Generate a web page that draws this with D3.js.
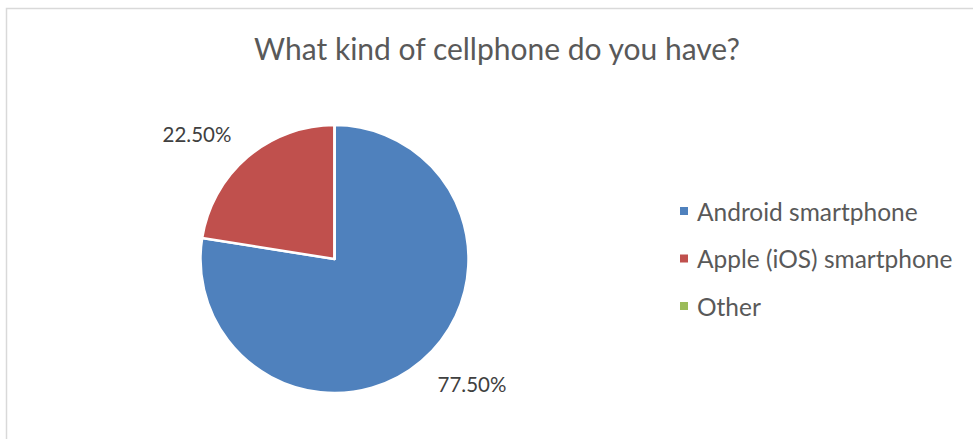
<!DOCTYPE html>
<html lang="en">
<head>
<meta charset="utf-8">
<title>What kind of cellphone do you have?</title>
<script src="https://cdn.jsdelivr.net/npm/d3@7"></script>
<style>
body { margin: 0; background: #fff; }
.title { font-family: Lato, "Open Sans", sans-serif; font-size: 30px; fill: #595959; }
.legend_labels { font-family: Lato, "Open Sans", sans-serif; font-size: 24.5px; fill: #595959; }
.data_label { font-family: Lato, "Open Sans", sans-serif; font-size: 20.5px; fill: #404040; }
</style>
</head>
<body>
<script>
var categories = ["Android smartphone", "Apple (iOS) smartphone", "Other"];
var values = [77.5, 22.5, 0];
var labels = ["77.50%", "22.50%", ""];
var colors = ["#4F81BD", "#C0504D", "#9BBB59"];

var W = 973, H = 439;
var cx = 334.5, cy = 259, r = 134;

var svg = d3.select("body").append("svg")
  .attr("width", W).attr("height", H);

// chart area border (right/bottom edges fall outside the window)
svg.append("rect")
  .attr("x", 6.5).attr("y", 8.5)
  .attr("width", W + 20).attr("height", H + 20)
  .attr("fill", "#fff")
  .attr("stroke", "#d9d9d9")
  .attr("stroke-width", 1.5);

svg.append("text")
  .attr("class", "title")
  .attr("x", 497).attr("y", 60)
  .attr("text-anchor", "middle")
  .text("What kind of cellphone do you have?");

var pie = d3.pie().sort(null).value(function(d) { return d; });
var arcs = pie(values);
var arc = d3.arc().innerRadius(0).outerRadius(r);

var g = svg.append("g").attr("transform", "translate(" + cx + "," + cy + ")");

g.selectAll("path")
  .data(arcs)
  .enter()
  .append("path")
  .attr("d", arc)
  .attr("fill", function(d, i) { return colors[i]; })
  .attr("stroke", "#fff")
  .attr("stroke-width", 2.5)
  .attr("stroke-linejoin", "round");

// data labels placed outside the slices (best-fit style)
var labelR = 186, shift = -0.125;
g.selectAll(".data_label")
  .data(arcs.filter(function(d) { return d.value > 0; }))
  .enter()
  .append("text")
  .attr("class", "data_label")
  .attr("x", function(d) { var a = (d.startAngle + d.endAngle) / 2 + shift; return labelR * Math.sin(a); })
  .attr("y", function(d) { var a = (d.startAngle + d.endAngle) / 2 + shift; return -labelR * Math.cos(a); })
  .attr("text-anchor", "middle")
  .attr("dominant-baseline", "central")
  .text(function(d) { return labels[d.index]; });

// legend
var legend_x = 680, legend_y = 211, legend_step = 47.5;
var lg = svg.append("g");
lg.selectAll("rect")
  .data(categories)
  .enter()
  .append("rect")
  .attr("x", legend_x)
  .attr("y", function(d, i) { return legend_y + i * legend_step - 4; })
  .attr("width", 8).attr("height", 8)
  .attr("fill", function(d, i) { return colors[i]; });

lg.selectAll("text")
  .data(categories)
  .enter()
  .append("text")
  .attr("class", "legend_labels")
  .attr("x", legend_x + 17)
  .attr("y", function(d, i) { return legend_y + i * legend_step; })
  .attr("dominant-baseline", "central")
  .text(function(d) { return d; });
</script>
</body>
</html>
